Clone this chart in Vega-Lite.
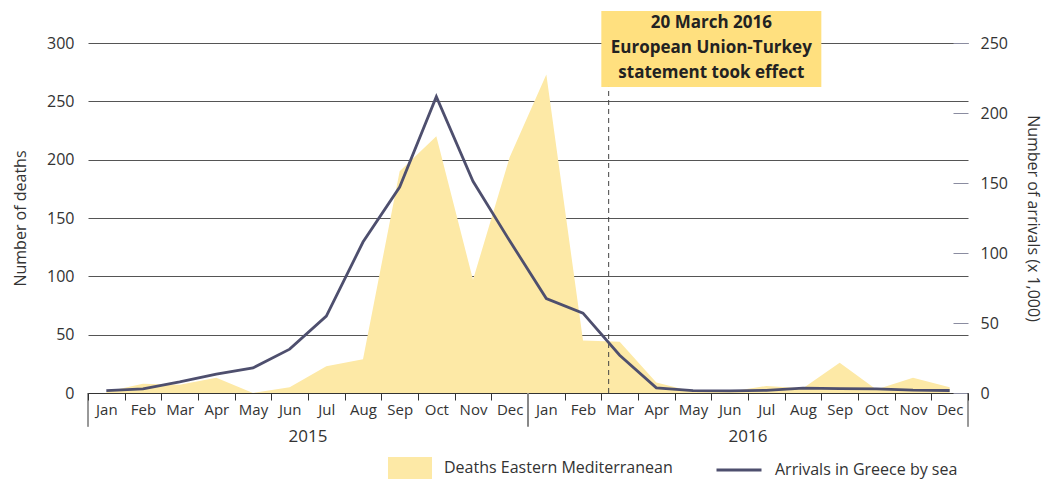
{
  "$schema": "https://vega.github.io/schema/vega-lite/v6.json",
  "width": 880,
  "height": 350,
  "autosize": "none",
  "padding": {"left": 88, "top": 43, "right": 75, "bottom": 86},
  "config": {
    "font": "Open Sans",
    "view": {"stroke": null},
    "axis": {"labelFont": "Open Sans", "titleFont": "Open Sans", "labelColor": "#333333", "titleColor": "#333333", "titleFontWeight": "normal"},
    "legend": {"labelFont": "Open Sans", "labelFontSize": 16, "labelColor": "#333333", "labelLimit": 400}
  },
  "data": {
    "values": [
      {"month": "Jan 2015", "deaths": 1, "arrivals": 1.694},
      {"month": "Feb 2015", "deaths": 8, "arrivals": 2.873},
      {"month": "Mar 2015", "deaths": 7, "arrivals": 7.874},
      {"month": "Apr 2015", "deaths": 13, "arrivals": 13.556},
      {"month": "May 2015", "deaths": 0, "arrivals": 17.889},
      {"month": "Jun 2015", "deaths": 5, "arrivals": 31.318},
      {"month": "Jul 2015", "deaths": 23, "arrivals": 54.899},
      {"month": "Aug 2015", "deaths": 29, "arrivals": 107.843},
      {"month": "Sep 2015", "deaths": 190, "arrivals": 147.123},
      {"month": "Oct 2015", "deaths": 220, "arrivals": 211.663},
      {"month": "Nov 2015", "deaths": 97, "arrivals": 151.249},
      {"month": "Dec 2015", "deaths": 202, "arrivals": 108.742},
      {"month": "Jan 2016", "deaths": 273, "arrivals": 67.415},
      {"month": "Feb 2016", "deaths": 45, "arrivals": 57.066},
      {"month": "Mar 2016", "deaths": 44, "arrivals": 26.971},
      {"month": "Apr 2016", "deaths": 9, "arrivals": 3.65},
      {"month": "May 2016", "deaths": 1, "arrivals": 1.721},
      {"month": "Jun 2016", "deaths": 1, "arrivals": 1.554},
      {"month": "Jul 2016", "deaths": 6, "arrivals": 1.92},
      {"month": "Aug 2016", "deaths": 4, "arrivals": 3.447},
      {"month": "Sep 2016", "deaths": 26, "arrivals": 3.08},
      {"month": "Oct 2016", "deaths": 3, "arrivals": 2.97},
      {"month": "Nov 2016", "deaths": 13, "arrivals": 1.991},
      {"month": "Dec 2016", "deaths": 5, "arrivals": 1.784}
    ]
  },
  "layer": [
    {
      "layer": [
        {
          "mark": {"type": "area", "color": "#FDE9A6", "opacity": 1},
          "encoding": {
            "x": {
              "field": "month", "type": "ordinal", "sort": null,
              "scale": {"domain": ["Jan 2015","Feb 2015","Mar 2015","Apr 2015","May 2015","Jun 2015","Jul 2015","Aug 2015","Sep 2015","Oct 2015","Nov 2015","Dec 2015","Jan 2016","Feb 2016","Mar 2016","Apr 2016","May 2016","Jun 2016","Jul 2016","Aug 2016","Sep 2016","Oct 2016","Nov 2016","Dec 2016"], "paddingInner": 0, "paddingOuter": 0},
              "axis": {"title": null, "labelAngle": 0, "labelExpr": "datum.value ? split(datum.value, ' ')[0] : ''", "tickBand": "extent", "tickSize": 7, "tickColor": "#333333", "domainColor": "#333333", "labelFontSize": 15, "labelPadding": 2}
            },
            "y": {
              "field": "deaths", "type": "quantitative",
              "scale": {"domain": [0, 300], "nice": false},
              "axis": {"title": "Number of deaths", "titleFontSize": 16, "labelFontSize": 16, "values": [0, 50, 100, 150, 200, 250, 300], "ticks": false, "domain": false, "grid": true, "gridColor": "#555555", "gridWidth": 1, "gridOpacity": 1, "labelPadding": 14, "titlePadding": 18}
            },
            "fill": {"datum": "Deaths Eastern Mediterranean", "type": "nominal", "scale": {"range": ["#FDE9A6"]},
              "legend": {"title": null, "orient": "none", "legendX": 300, "legendY": 403, "symbolType": "M-1,-0.5H1V0.5H-1Z", "symbolSize": 1936, "symbolStrokeWidth": 0, "symbolOpacity": 1, "padding": 0, "labelOffset": 12}}
          }
        },
        {
          "data": {"values": [{}]},
          "mark": {"type": "rect", "color": "#FFE07F"},
          "encoding": {
            "x": {"datum": "Mar 2016", "type": "ordinal", "bandPosition": 0},
            "x2": {"datum": "Aug 2016", "bandPosition": 1},
            "y": {"datum": 327.4, "type": "quantitative"},
            "y2": {"datum": 262.3}
          }
        },
        {
          "data": {"values": [{}]},
          "mark": {"type": "text", "fontWeight": "bold", "fontSize": 17, "color": "#222222", "align": "center", "baseline": "middle", "lineHeight": 25},
          "encoding": {
            "x": {"datum": "Jun 2016", "type": "ordinal", "bandPosition": 0},
            "y": {"datum": 317.1, "type": "quantitative"},
            "text": {"value": ["20 March 2016", "European Union-Turkey", "statement took effect"]}
          }
        },
        {
          "data": {"values": [{}]},
          "mark": {"type": "rule", "color": "#444444", "strokeDash": [5, 4], "strokeWidth": 1},
          "encoding": {
            "x": {"datum": "Mar 2016", "type": "ordinal", "bandPosition": 0.2},
            "y": {"datum": 0, "type": "quantitative"},
            "y2": {"datum": 262.3}
          }
        },
        {
          "data": {"values": [{}]},
          "mark": {"type": "rule", "color": "#333333", "strokeWidth": 1},
          "encoding": {
            "x": {"datum": "Jan 2015", "type": "ordinal", "bandPosition": 0},
            "y": {"datum": 0, "type": "quantitative"},
            "y2": {"datum": -29}
          }
        },
        {
          "data": {"values": [{}]},
          "mark": {"type": "rule", "color": "#333333", "strokeWidth": 1},
          "encoding": {
            "x": {"datum": "Dec 2016", "type": "ordinal", "bandPosition": 1},
            "y": {"datum": 0, "type": "quantitative"},
            "y2": {"datum": -29}
          }
        },
        {
          "data": {"values": [{}]},
          "mark": {"type": "rule", "color": "#888888", "strokeWidth": 2},
          "encoding": {
            "x": {"datum": "Jan 2016", "type": "ordinal", "bandPosition": 0},
            "y": {"datum": 0, "type": "quantitative"},
            "y2": {"datum": -29}
          }
        },
        {
          "data": {"values": [{}]},
          "mark": {"type": "text", "fontSize": 17, "color": "#333333", "align": "center", "baseline": "middle"},
          "encoding": {
            "x": {"datum": "Jul 2015", "type": "ordinal", "bandPosition": 0},
            "y": {"datum": -38, "type": "quantitative"},
            "text": {"value": "2015"}
          }
        },
        {
          "data": {"values": [{}]},
          "mark": {"type": "text", "fontSize": 17, "color": "#333333", "align": "center", "baseline": "middle"},
          "encoding": {
            "x": {"datum": "Jul 2016", "type": "ordinal", "bandPosition": 0},
            "y": {"datum": -38, "type": "quantitative"},
            "text": {"value": "2016"}
          }
        }
      ]
    },
    {
      "mark": {"type": "line", "color": "#4E4F6E", "strokeWidth": 2.8},
      "encoding": {
        "x": {"field": "month", "type": "ordinal", "sort": null},
        "y": {
          "field": "arrivals", "type": "quantitative",
          "scale": {"domain": [0, 250], "nice": false},
          "axis": {"orient": "right", "title": "Number of arrivals (x 1,000)", "titleFontSize": 16, "labelFontSize": 16, "values": [0, 50, 100, 150, 200, 250], "domain": false, "grid": false, "tickSize": -15, "tickColor": "#8A8CA0", "labelPadding": 27, "titlePadding": 17}
        },
        "stroke": {"datum": "Arrivals in Greece by sea", "type": "nominal", "scale": {"range": ["#4E4F6E"]},
          "legend": {"title": null, "orient": "none", "legendX": 627, "legendY": 403, "symbolType": "stroke", "symbolSize": 2025, "symbolStrokeWidth": 2.8, "padding": 0, "labelOffset": 12}}
      }
    }
  ],
  "resolve": {"scale": {"y": "independent", "fill": "independent", "stroke": "independent"}}
}
